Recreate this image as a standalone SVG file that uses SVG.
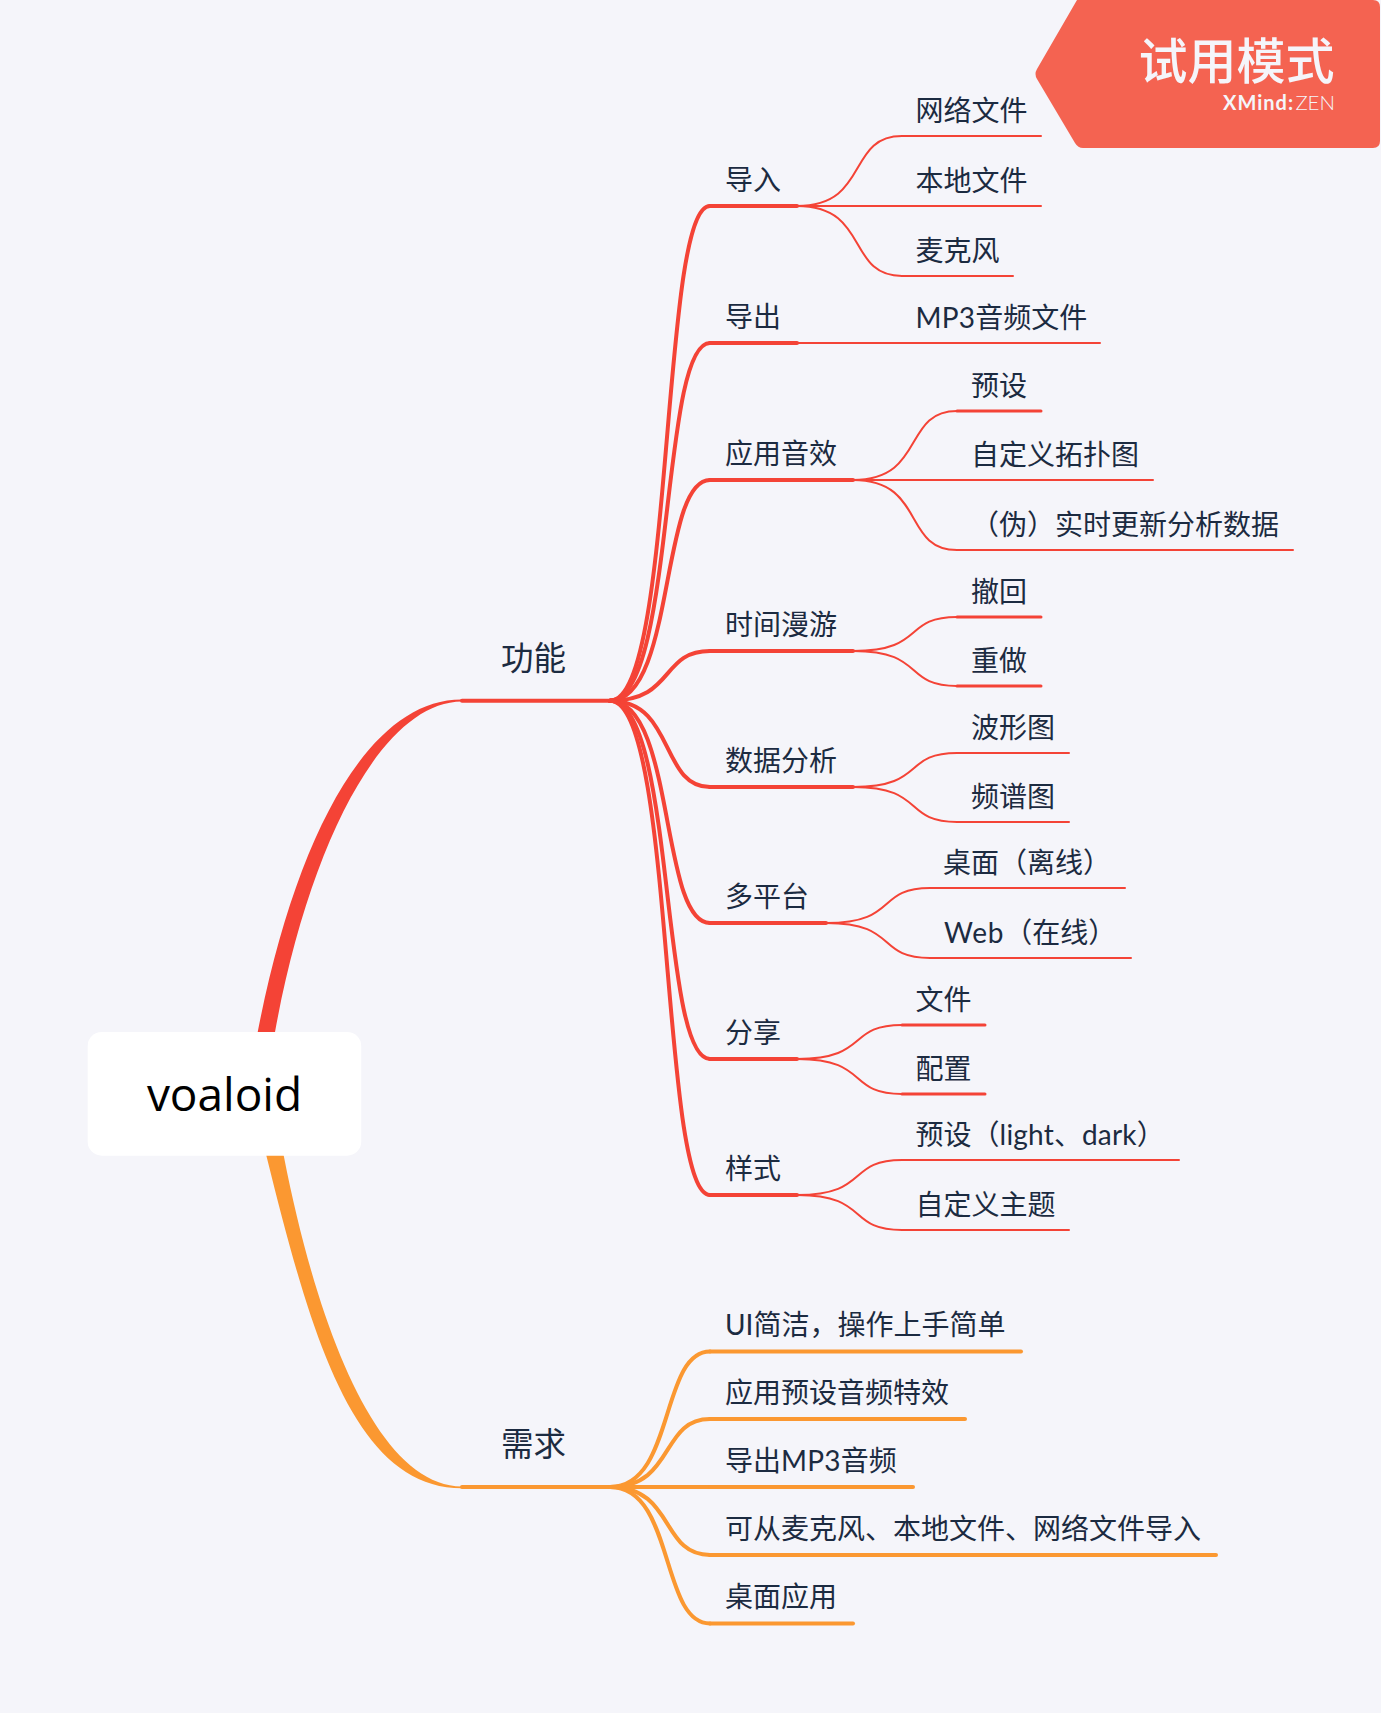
<svg xmlns="http://www.w3.org/2000/svg" width="1381" height="1713" viewBox="0 0 1381 1713">
<style>
text{font-family:"Lato","Noto Sans CJK SC","Noto Sans",sans-serif;fill:#1c2b41}
.t2,.t3{font-size:28px;font-weight:400}
.t1{font-size:32.500px;font-weight:400}
.c{fill:none;stroke-linecap:round}
.r{stroke:#f44336}.o{stroke:#fb9831}
.w1{stroke-width:2px}.w2{stroke-width:4px}.w3{stroke-width:3px}
.ls{letter-spacing:.2px}
.lw{letter-spacing:.8px}
</style>
<rect width="1381" height="1713" fill="#f5f5fa"/>
<g id="connectors">
<path d="M462 699.500C367 699 295 840 257.700 1032L256 1040L273 1040L275 1032C308 850 380 702 462 701.500Z" fill="#f44336"/>
<path d="M265 1150L266.700 1157C312 1340 355 1488 462 1488.300L462 1486.500C378 1486 318 1330 284 1157L282.500 1150Z" fill="#fb9831"/>
<g class="c r w2">
<path d="M462 700.700H610"/>
<path d="M610 700.700C675 700.700 660 206 710 206"/>
<path d="M610 700.700C675 700.700 660 343 710 343"/>
<path d="M610 700.700C675 700.700 660 480 710 480"/>
<path d="M610 700.700C675 700.700 660 651 710 651"/>
<path d="M610 700.700C675 700.700 660 787 710 787"/>
<path d="M610 700.700C675 700.700 660 923 710 923"/>
<path d="M610 700.700C675 700.700 660 1059 710 1059"/>
<path d="M610 700.700C675 700.700 660 1195 710 1195"/>
</g>
<g class="c r w1">
<path d="M797 206C870 206 846 136 902 136"/>
<path d="M797 206H902"/>
<path d="M797 206C870 206 846 276 902 276"/>
<path d="M797 343H902"/>
<path d="M853 480C926 480 902 411 957 411"/>
<path d="M853 480H957"/>
<path d="M853 480C926 480 902 550 957 550"/>
<path d="M853 651C926 651 902 617 957 617"/>
<path d="M853 651C926 651 902 686 957 686"/>
<path d="M853 787C926 787 902 753 957 753"/>
<path d="M853 787C926 787 902 822 957 822"/>
<path d="M826 923C899 923 875 888 930 888"/>
<path d="M826 923C899 923 875 958 930 958"/>
<path d="M797 1059C870 1059 846 1025 902 1025"/>
<path d="M797 1059C870 1059 846 1094 902 1094"/>
<path d="M797 1195C870 1195 846 1160 902 1160"/>
<path d="M797 1195C870 1195 846 1230 902 1230"/>
</g>
<g class="c o w2">
<path d="M462 1487H610"/>
<path d="M610 1487C675 1487 660 1351.500 710 1351.500"/>
<path d="M610 1487C675 1487 660 1419 710 1419"/>
<path d="M610 1487H710"/>
<path d="M610 1487C675 1487 660 1555 710 1555"/>
<path d="M610 1487C675 1487 660 1623.500 710 1623.500"/>
</g>
</g>
<g id="root"><rect x="87.700" y="1032" width="273.500" height="123.700" rx="14" fill="#fff"/><text x="224.500" y="1110.500" text-anchor="middle" style="font-family:'Open Sans','Noto Sans',sans-serif;font-size:46px;font-weight:400;fill:#000">voaloid</text></g>
<g id="n-gongneng"><text class="t1" x="501" y="670">功能</text></g>
<g id="n-xuqiu"><text class="t1" x="501" y="1456">需求</text></g>
<g id="n-daoru"><path class="c r w2" d="M710 206H797"/><text class="t2" x="725" y="190">导入</text></g>
<g id="n-daochu"><path class="c r w2" d="M710 343H797"/><text class="t2" x="725" y="327">导出</text></g>
<g id="n-yingyong"><path class="c r w2" d="M710 480H853"/><text class="t2" x="725" y="464">应用音效</text></g>
<g id="n-shijian"><path class="c r w2" d="M710 651H853"/><text class="t2" x="725" y="635">时间漫游</text></g>
<g id="n-shuju"><path class="c r w2" d="M710 787H853"/><text class="t2" x="725" y="771">数据分析</text></g>
<g id="n-duopingtai"><path class="c r w2" d="M710 923H826"/><text class="t2" x="725" y="907">多平台</text></g>
<g id="n-fenxiang"><path class="c r w2" d="M710 1059H797"/><text class="t2" x="725" y="1043">分享</text></g>
<g id="n-yangshi"><path class="c r w2" d="M710 1195H797"/><text class="t2" x="725" y="1179">样式</text></g>
<g id="n-wangluo"><path class="c r w1" d="M902 136H1041"/><text class="t3" x="915.600" y="121">网络文件</text></g>
<g id="n-bendi"><path class="c r w1" d="M902 206H1041"/><text class="t3" x="915.600" y="191">本地文件</text></g>
<g id="n-maikefeng"><path class="c r w1" d="M902 276H1013"/><text class="t3" x="915.600" y="261">麦克风</text></g>
<g id="n-mp3"><path class="c r w1" d="M902 343H1100"/><text class="t3" x="915.600" y="328"><tspan class="ls">MP3</tspan>音频文件</text></g>
<g id="n-yushe"><path class="c r w3" d="M957 411H1041"/><text class="t3" x="971" y="396">预设</text></g>
<g id="n-tuopu"><path class="c r w1" d="M957 480H1153"/><text class="t3" x="971" y="465">自定义拓扑图</text></g>
<g id="n-wei"><path class="c r w1" d="M957 550H1293"/><text class="t3" x="971" y="535">（伪）实时更新分析数据</text></g>
<g id="n-chehui"><path class="c r w3" d="M957 617H1041"/><text class="t3" x="971" y="602">撤回</text></g>
<g id="n-chongzuo"><path class="c r w3" d="M957 686H1041"/><text class="t3" x="971" y="671">重做</text></g>
<g id="n-boxing"><path class="c r w1" d="M957 753H1069"/><text class="t3" x="971" y="738">波形图</text></g>
<g id="n-pinpu"><path class="c r w1" d="M957 822H1069"/><text class="t3" x="971" y="807">频谱图</text></g>
<g id="n-zhuomian"><path class="c r w1" d="M930 888H1125"/><text class="t3" x="943" y="873">桌面（离线）</text></g>
<g id="n-web"><path class="c r w1" d="M930 958H1131"/><text class="t3" x="944" y="943"><tspan class="lw">Web</tspan>（在线）</text></g>
<g id="n-wenjian"><path class="c r w3" d="M902 1025H985"/><text class="t3" x="915.600" y="1010">文件</text></g>
<g id="n-peizhi"><path class="c r w3" d="M902 1094H985"/><text class="t3" x="915.600" y="1079">配置</text></g>
<g id="n-light"><path class="c r w1" d="M902 1160H1179"/><text class="t3" x="915.600" y="1145">预设（<tspan class="ls">light</tspan>、<tspan class="ls">dark</tspan>）</text></g>
<g id="n-zhuti"><path class="c r w1" d="M902 1230H1069"/><text class="t3" x="915.600" y="1215">自定义主题</text></g>
<g id="n-ui"><path class="c o w2" d="M710 1351.500H1021"/><text class="t2" x="725" y="1335">UI简洁，操作上手简单</text></g>
<g id="n-yingyongyushe"><path class="c o w2" d="M710 1419H965"/><text class="t2" x="725" y="1403">应用预设音频特效</text></g>
<g id="n-daochump3"><path class="c o w2" d="M710 1487H913"/><text class="t2" x="725" y="1471">导出<tspan class="ls">MP3</tspan>音频</text></g>
<g id="n-kecong"><path class="c o w2" d="M710 1555H1216"/><text class="t2" x="725" y="1539">可从麦克风、本地文件、网络文件导入</text></g>
<g id="n-zhuomianyingyong"><path class="c o w2" d="M710 1623.500H853"/><text class="t2" x="725" y="1607">桌面应用</text></g>
<g id="badge">
<path d="M1077 0H1373Q1380 0 1380 7V141Q1380 148 1373 148H1083Q1078 148 1075 143L1037 79Q1034 74 1037 69L1077 0Z" fill="#f46351"/>
<text x="1334.500" y="79" text-anchor="end" style="font-size:49px;font-weight:500;fill:#f5f5fa">试用模式</text>
<text x="1223" y="110" style="font-size:20px;font-weight:700;fill:#f5f5fa;letter-spacing:1px">XMind</text>
<text x="1288" y="110" style="font-size:20px;font-weight:700;fill:#f5f5fa">:</text>
<text x="1335" y="110" text-anchor="end" style="font-size:20.500px;font-weight:300;fill:#f5f5fa">ZEN</text>
</g>
</svg>
